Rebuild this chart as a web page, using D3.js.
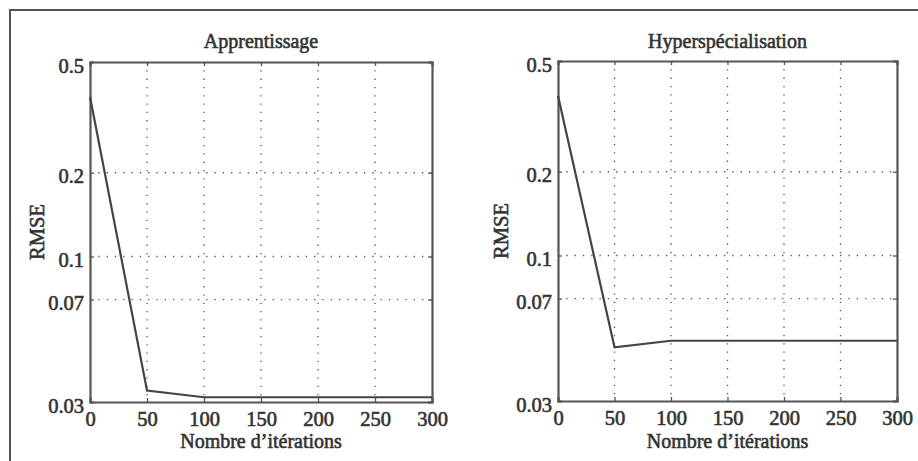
<!DOCTYPE html>
<html>
<head>
<meta charset="utf-8">
<script src="https://cdn.jsdelivr.net/npm/d3@7"></script>
<style>
  body { margin: 0; background: #fff; }
  svg { display: block; }
  text { font-family: "Liberation Serif", "Times New Roman", serif; fill: #333; stroke: #333; stroke-width: 0.6; }
</style>
</head>
<body>
<svg width="918" height="461"></svg>
<script>
const iterations = [0, 50, 100, 150, 200, 250, 300]
const rmseApprentissage = [0.375, 0.033, 0.0312, 0.0312, 0.0312, 0.0312, 0.0312]
const rmseHyper = [0.375, 0.0468, 0.0494, 0.0494, 0.0494, 0.0494, 0.0494]
const xTicks = [0, 50, 100, 150, 200, 250, 300]
const yTicks = [0.03, 0.07, 0.1, 0.2, 0.5]
const titles = ["Apprentissage", "Hyperspécialisation"]
const xLabel = "Nombre d’itérations"
const yLabel = "RMSE"

const INK = "#444"
const svg = d3.select("svg")

// scanned page frame (left and top edges only are visible)
svg.append("path")
  .attr("d", "M10,461 L10,10 L918,10")
  .attr("fill", "none").attr("stroke", "#555").attr("stroke-width", 2)

const panels = [
  { title: titles[0], values: rmseApprentissage, left: 90, right: 432, top: 62, bottom: 402, yLabelX: 37 },
  { title: titles[1], values: rmseHyper, left: 558, right: 897, top: 61, bottom: 401, yLabelX: 501 },
]

const drawPanel = (p) => {
  const x = d3.scaleLinear().domain([0, 300]).range([p.left, p.right])
  const y = d3.scaleLog().domain([0.03, 0.5]).range([p.bottom, p.top])
  const g = svg.append("g")

  // dotted grid
  g.selectAll(".vgrid").data(xTicks.slice(1, -1)).enter().append("line")
    .attr("x1", (d) => x(d)).attr("x2", (d) => x(d))
    .attr("y1", p.top).attr("y2", p.bottom)
    .attr("stroke", "#555").attr("stroke-width", 1.3).attr("stroke-dasharray", "1.3,7")
  g.selectAll(".hgrid").data(yTicks.slice(1, -1)).enter().append("line")
    .attr("x1", p.left).attr("x2", p.right)
    .attr("y1", (d) => y(d)).attr("y2", (d) => y(d))
    .attr("stroke", "#555").attr("stroke-width", 1.3).attr("stroke-dasharray", "1.3,7")

  // axes with inward ticks
  const fmt = (d) => String(d)
  const yAxisLeft = g.append("g").attr("transform", `translate(${p.left},0)`)
    .call(d3.axisLeft(y).tickValues(yTicks).tickSize(-4).tickPadding(6).tickFormat(fmt))
  g.append("g").attr("transform", `translate(0,${p.bottom})`)
    .call(d3.axisBottom(x).tickValues(xTicks).tickSize(-4).tickPadding(9).tickFormat(fmt))
  g.append("g").attr("transform", `translate(0,${p.top})`)
    .call(d3.axisTop(x).tickValues(xTicks).tickSize(-4).tickFormat(""))
  g.append("g").attr("transform", `translate(${p.right},0)`)
    .call(d3.axisRight(y).tickValues(yTicks).tickSize(-4).tickFormat(""))
  g.selectAll(".domain").attr("stroke", "#555").attr("stroke-width", 2.2)
  g.selectAll(".tick line").attr("stroke", "#555").attr("stroke-width", 1.3)
  g.selectAll(".tick text").attr("font-size", 20.5).attr("fill", "#333")
  yAxisLeft.selectAll(".tick text").attr("dy", "0.5em")

  // data line
  const line = d3.line().x((d) => x(d[0])).y((d) => y(d[1]))
  g.append("path")
    .datum(iterations.map((it, i) => [it, p.values[i]]))
    .attr("d", line)
    .attr("fill", "none").attr("stroke", INK).attr("stroke-width", 2.2)

  // labels
  g.append("text").attr("x", (p.left + p.right) / 2).attr("y", 48)
    .attr("text-anchor", "middle").attr("font-size", 20).text(p.title)
  g.append("text").attr("x", (p.left + p.right) / 2).attr("y", 448)
    .attr("text-anchor", "middle").attr("font-size", 20).text(xLabel)
  g.append("text")
    .attr("transform", `translate(${p.yLabelX + 7},${(p.top + p.bottom) / 2}) rotate(-90)`)
    .attr("text-anchor", "middle").attr("font-size", 20.5).text(yLabel)
}

panels.forEach(drawPanel)
</script>
</body>
</html>
